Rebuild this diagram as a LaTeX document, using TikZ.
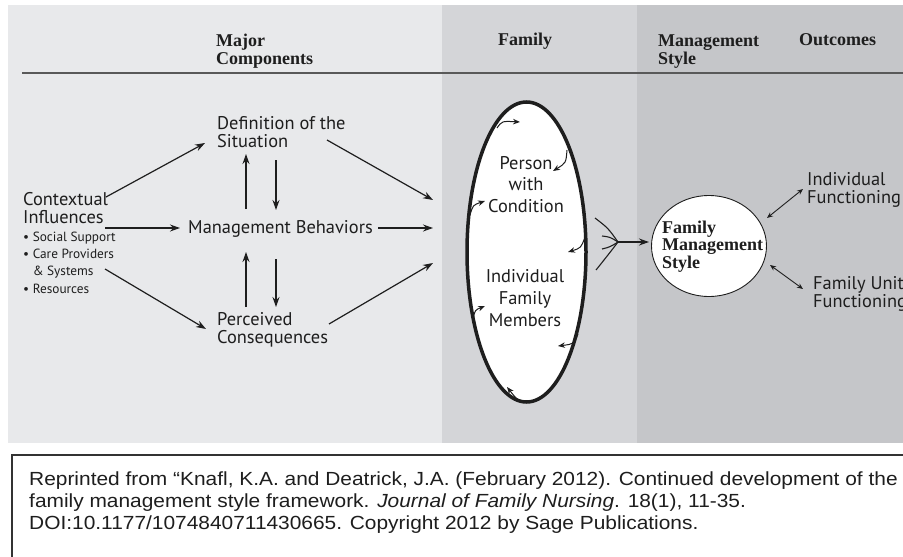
\documentclass[tikz,border=0pt]{standalone}
\usepackage{fontspec}
\setmainfont{Liberation Serif}
\newfontfamily\myr{PT Sans}
\newfontfamily\capf[FakeStretch=1.10]{Liberation Sans}
\usetikzlibrary{arrows.meta,shapes.geometric,calc}
\definecolor{pA}{HTML}{E8E9EB}
\definecolor{pB}{HTML}{D4D5D8}
\definecolor{pC}{HTML}{C5C6C9}
\definecolor{ink}{HTML}{1E1E1E}
\begin{document}
\begin{tikzpicture}[x=1pt,y=-1pt,
  hdr/.style={font=\bfseries\fontsize{18}{18}\selectfont, text=ink, anchor=base west, inner sep=0pt, align=left},
  lbl/.style={font=\myr\fontsize{18.4}{18}\selectfont, text=ink, inner sep=0pt, align=left},
  lst/.style={font=\myr\fontsize{13.3}{17.3}\selectfont, text=ink, inner sep=0pt, align=left},
  arr/.style={draw=ink, line width=1.2pt, -{Stealth[length=10pt,width=7pt]}},
  small/.style={draw=ink, line width=1pt, -{Stealth[length=7pt,width=5.5pt]}},
  darr/.style={draw=ink, line width=0.9pt, {Stealth[length=6pt,width=5pt]}-{Stealth[length=6pt,width=5pt]}},
  capt/.style={font=\capf\fontsize{19}{22}\selectfont, text=ink, inner sep=0pt, align=left, anchor=base west}]
\useasboundingbox (0,0) rectangle (903,557);
\fill[white] (0,0) rectangle (903,557);
% panels
\fill[pA] (8,5) rectangle (442,443);
\fill[pB] (442,5) rectangle (637,443);
\fill[pC] (637,5) rectangle (903,443);
\draw[line width=2pt, black!65] (22,73) -- (903,73);
% headers (base = last line)
\node[hdr] (hMajor) at (216,64) {Major\\Components};
\node[hdr] (hFam) at (498,45) {Family};
\node[hdr] (hMS) at (658,64) {Management\\Style};
\node[hdr] (hOut) at (799,45) {Outcomes};
% left components
\node[lbl, anchor=base west] (ci) at (23,223) {Contextual\\Influences};
\node[lst, anchor=base west] (list) at (23,293) {\textbullet\ Social Support\\\textbullet\ Care Providers\\\hspace*{0.72em}\& Systems\\\textbullet\ Resources};
\node[lbl, anchor=base west] (def) at (217,147) {Definition of the\\Situation};
\node[lbl, anchor=base west] (mb) at (188,233) {Management Behaviors};
\node[lbl, anchor=base west] (pc) at (217,343) {Perceived\\Consequences};
% family ellipse
\node[draw=ink, line width=3.5pt, ellipse, fill=white, minimum width=119pt, minimum height=300pt, inner sep=0pt] (fam) at (526.5,252) {};
\node[lbl, align=center, anchor=base, font=\myr\fontsize{18.4}{21.5}\selectfont] (pwc) at (526,212) {Person\\with\\Condition};
\node[lbl, align=center, anchor=base, font=\myr\fontsize{18.4}{22}\selectfont] (ifm) at (525,326) {Individual\\Family\\Members};
% FMS ellipse
\node[draw=ink, line width=0.9pt, ellipse, fill=white, minimum width=115pt, minimum height=101pt, inner sep=0pt] (fms) at (709,246) {};
\node[hdr, font=\bfseries\fontsize{18}{17.5}\selectfont] (fmst) at (662,268) {Family\\Management\\Style};
% outcomes
\node[lbl, anchor=base west] (ind) at (807,203) {Individual\\Functioning};
\node[lbl, anchor=base west] (unit) at (813,307) {Family Unit\\Functioning};
% coordinates
\coordinate (ciA) at (106,197);
\coordinate (ciB) at (105,228);
\coordinate (ciC) at (105,269);
\coordinate (defA) at (205,143);
\coordinate (defB) at (327,140);
\coordinate (mbA) at (180,228);
\coordinate (mbB) at (378,228);
\coordinate (pcA) at (206,329);
\coordinate (pcB) at (329,324);
\coordinate (in1) at (433,200);
\coordinate (in2) at (433,228);
\coordinate (in3) at (433,263);
\coordinate (j) at (618,242);
\coordinate (fmsW) at (649,242);
% left arrows
\draw[arr] (ciA) -- (defA);
\draw[arr] (ciB) -- (mbA);
\draw[arr] (ciC) -- (pcA);
\draw[arr] (defB) -- (in1);
\draw[arr] (mbB) -- (in2);
\draw[arr] (pcB) -- (in3);
\draw[arr] (246,209) -- (246,154);
\draw[arr] (276,160) -- (276,210);
\draw[arr] (246,307) -- (246,252);
\draw[arr] (276,259) -- (276,307);
% inner circulation arrows
\draw[small] (497,128) .. controls (502,121) .. (520,122);
\draw[small] (567,150) .. controls (566,163) .. (553,171);
\draw[small] (470,215) .. controls (473,205) .. (485,201);
\draw[small] (585,237) .. controls (581,248) .. (568,252);
\draw[small] (473,319) .. controls (475,310) .. (485,306);
\draw[small] (578,334) .. controls (574,344) .. (558,346);
\draw[small] (533,402) .. controls (518,401) .. (507,387);
% convergence
\draw[ink, line width=1.1pt] (595,218) .. controls (608,228) .. (j);
\draw[ink, line width=1.1pt] (602,236) .. controls (610,237) .. (j);
\draw[ink, line width=1.1pt] (602,249) .. controls (610,247) .. (j);
\draw[ink, line width=1.1pt] (596,270) .. controls (608,255) .. (j);
\draw[arr, line width=1.6pt] (j) -- (fmsW);
% outcome arrows
\draw[darr] (767,218) -- (803,189);
\draw[darr] (770,265) -- (803,289);
% caption
\draw[line width=1.5pt, black!80] (12,560) -- (12,455) -- (906,455);
\node[capt] (cap) at (29,529) {Reprinted from “Knafl, K.A. and Deatrick, J.A. (February 2012). Continued development of the\\family management style framework. \textit{Journal of Family Nursing}. 18(1), 11-35.\\DOI:10.1177/1074840711430665. Copyright 2012 by Sage Publications.};
\end{tikzpicture}
\end{document}
